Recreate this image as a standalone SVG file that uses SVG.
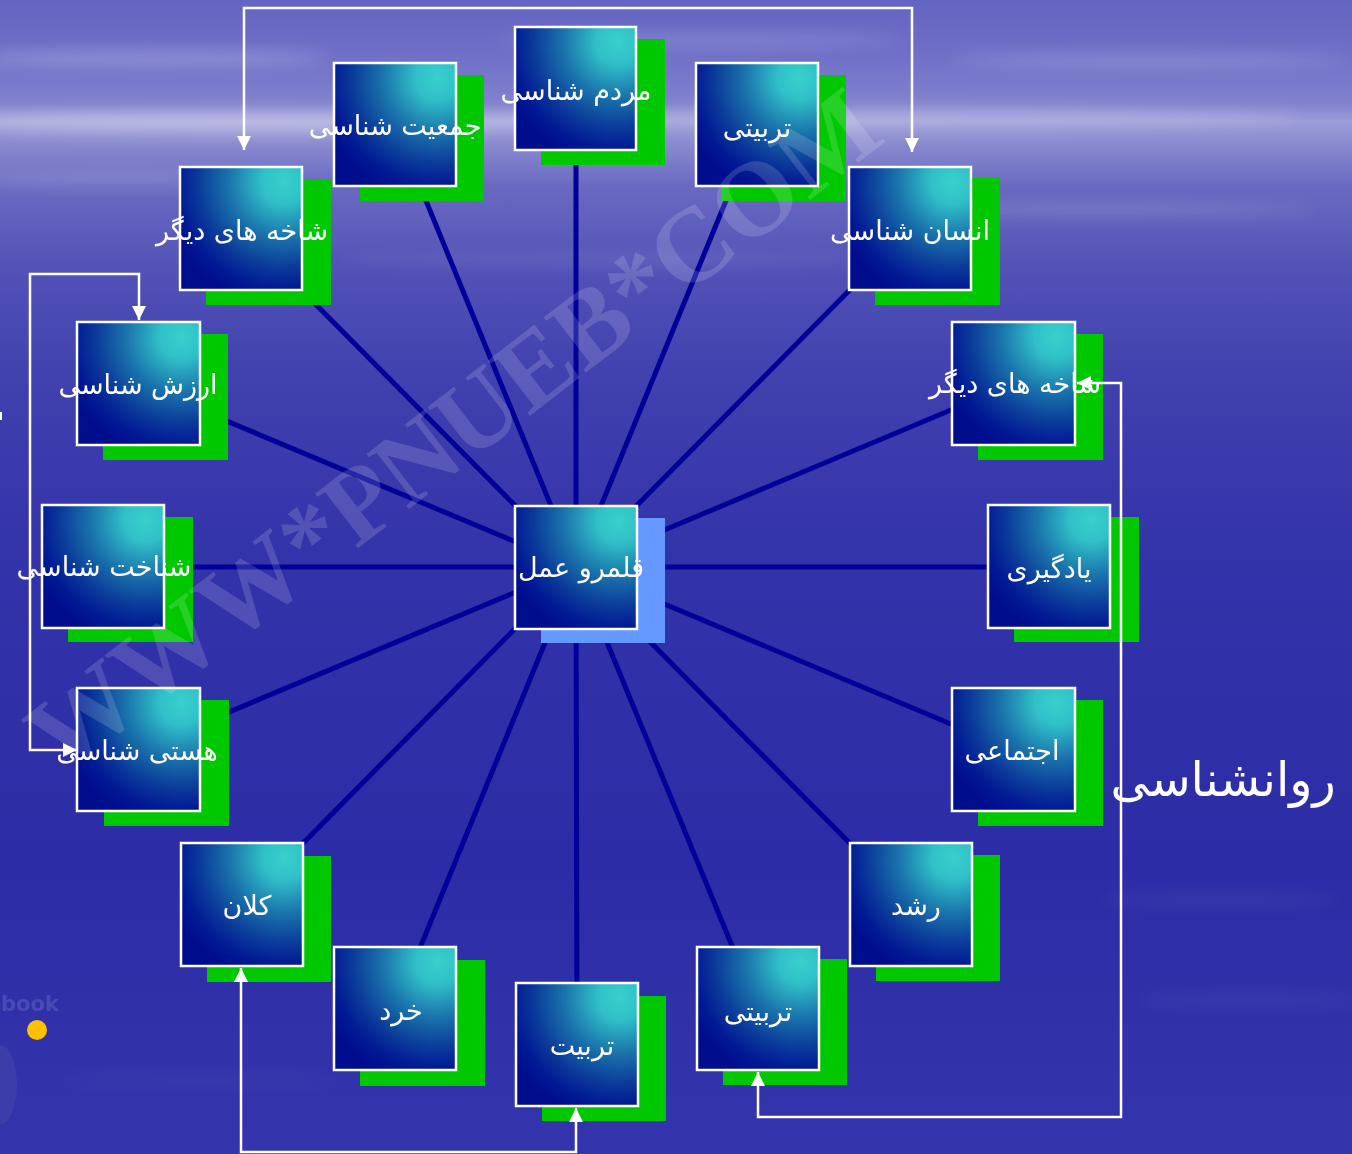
<svg xmlns="http://www.w3.org/2000/svg" width="1352" height="1154" viewBox="0 0 1352 1154">
  <defs>
    <linearGradient id="bg" x1="0" y1="0" x2="0" y2="1">
      <stop offset="0" stop-color="#6464c2"/>
      <stop offset="0.05" stop-color="#7070c8"/>
      <stop offset="0.09" stop-color="#8282ce"/>
      <stop offset="0.105" stop-color="#9c9cd8"/>
      <stop offset="0.125" stop-color="#8a8ad0"/>
      <stop offset="0.16" stop-color="#6a6ac2"/>
      <stop offset="0.24" stop-color="#5050b6"/>
      <stop offset="0.34" stop-color="#3f3fae"/>
      <stop offset="0.5" stop-color="#3232a9"/>
      <stop offset="0.75" stop-color="#2c2ca6"/>
      <stop offset="1" stop-color="#3434ac"/>
    </linearGradient>
    <radialGradient id="nodeFill" cx="0.85" cy="0.12" r="1.0" fx="0.85" fy="0.12">
      <stop offset="0" stop-color="#38d0cc"/>
      <stop offset="0.18" stop-color="#30c0c8"/>
      <stop offset="0.45" stop-color="#1a74ac"/>
      <stop offset="0.7" stop-color="#0b3a9a"/>
      <stop offset="0.88" stop-color="#011894"/>
      <stop offset="1" stop-color="#000e8e"/>
    </radialGradient>
    <filter id="blur" x="-20%" y="-300%" width="140%" height="700%">
      <feGaussianBlur stdDeviation="8"/>
    </filter>
    <marker id="arrow" viewBox="0 0 14 14" refX="14" refY="7" markerWidth="14" markerHeight="14" markerUnits="userSpaceOnUse" orient="auto-start-reverse">
      <path d="M0,0 L14,7 L0,14 Z" fill="#ffffff"/>
    </marker>
    <style>
      .shadow { fill: #00c800; }
      .box { fill: url(#nodeFill); stroke: #ffffff; stroke-width: 2.5; }
      .label { fill: #ffffff; font-family: "DejaVu Sans", "Noto Sans", sans-serif; font-size: 27px; text-anchor: middle; }
      .spoke { stroke: #000099; stroke-width: 5; fill: none; }
      .conn { stroke: #ffffff; stroke-width: 2.5; fill: none; }
    </style>
  </defs>

  <!-- background -->
  <rect x="0" y="0" width="1352" height="1154" fill="url(#bg)"/>
  <g id="clouds" fill="#ffffff" filter="url(#blur)">
    <ellipse cx="250" cy="122" rx="320" ry="10" opacity="0.35"/>
    <ellipse cx="900" cy="118" rx="400" ry="8" opacity="0.25"/>
    <ellipse cx="150" cy="58" rx="180" ry="7" opacity="0.25"/>
    <ellipse cx="700" cy="40" rx="200" ry="6" opacity="0.18"/>
    <ellipse cx="1150" cy="60" rx="200" ry="6" opacity="0.2"/>
    <ellipse cx="1100" cy="210" rx="220" ry="6" opacity="0.15"/>
    <ellipse cx="120" cy="180" rx="160" ry="6" opacity="0.18"/>
    <ellipse cx="600" cy="260" rx="260" ry="5" opacity="0.1"/>
    <ellipse cx="1220" cy="900" rx="120" ry="5" opacity="0.08"/>
    <ellipse cx="1250" cy="1000" rx="110" ry="5" opacity="0.08"/>
    <ellipse cx="200" cy="1080" rx="140" ry="5" opacity="0.06"/>
  </g>

  <!-- slide remnants -->
  <rect x="0" y="412" width="2" height="8" fill="#ffffff"/>
  <text x="1" y="1011" font-family="DejaVu Sans, sans-serif" font-size="21" font-weight="bold" fill="#4a4ab6">book</text>
  <circle cx="37" cy="1030" r="10" fill="#ffc000"/>
  <ellipse cx="0" cy="1085" rx="17" ry="40" fill="#3c3caa"/>

  <!-- spokes -->
  <g id="spokes">
    <line class="spoke" x1="576" y1="567" x2="576" y2="89"/>
    <line class="spoke" x1="576" y1="567" x2="395" y2="125"/>
    <line class="spoke" x1="576" y1="567" x2="757" y2="125"/>
    <line class="spoke" x1="576" y1="567" x2="241" y2="229"/>
    <line class="spoke" x1="576" y1="567" x2="910" y2="229"/>
    <line class="spoke" x1="576" y1="567" x2="138" y2="384"/>
    <line class="spoke" x1="576" y1="567" x2="1013" y2="384"/>
    <line class="spoke" x1="576" y1="567" x2="103" y2="567"/>
    <line class="spoke" x1="576" y1="567" x2="1049" y2="567"/>
    <line class="spoke" x1="576" y1="567" x2="138" y2="750"/>
    <line class="spoke" x1="576" y1="567" x2="1013" y2="750"/>
    <line class="spoke" x1="576" y1="567" x2="242" y2="905"/>
    <line class="spoke" x1="576" y1="567" x2="911" y2="905"/>
    <line class="spoke" x1="576" y1="567" x2="395" y2="1009"/>
    <line class="spoke" x1="576" y1="567" x2="758" y2="1009"/>
    <line class="spoke" x1="576" y1="567" x2="577" y2="1045"/>
  </g>

  <!-- nodes -->
  <g id="n-mardom">
    <rect class="shadow" x="541" y="39" width="124" height="126"/>
    <rect class="box" x="515" y="27" width="121" height="123"/>
    <text class="label" x="576" y="100">مردم شناسی</text>
  </g>
  <g id="n-jamiat">
    <rect class="shadow" x="360" y="75" width="124" height="126"/>
    <rect class="box" x="334" y="63" width="122" height="123"/>
    <text class="label" x="395" y="135">جمعیت شناسی</text>
  </g>
  <g id="n-tarbiati-top">
    <rect class="shadow" x="722" y="75" width="124" height="126"/>
    <rect class="box" x="696" y="63" width="122" height="123"/>
    <text class="label" x="757" y="137">تربیتی</text>
  </g>
  <g id="n-shakheh-left">
    <rect class="shadow" x="206" y="179" width="125" height="126"/>
    <rect class="box" x="180" y="167" width="122" height="123"/>
    <text class="label" x="242" y="240">شاخه های دیگر</text>
  </g>
  <g id="n-ensan">
    <rect class="shadow" x="875" y="178" width="125" height="127"/>
    <rect class="box" x="849" y="167" width="122" height="123"/>
    <text class="label" x="910" y="240">انسان شناسی</text>
  </g>
  <g id="n-arzesh">
    <rect class="shadow" x="103" y="334" width="125" height="126"/>
    <rect class="box" x="77" y="322" width="123" height="123"/>
    <text class="label" x="138" y="394">ارزش شناسی</text>
  </g>
  <g id="n-shakheh-right">
    <rect class="shadow" x="978" y="334" width="125" height="126"/>
    <rect class="box" x="952" y="322" width="123" height="123"/>
    <text class="label" x="1015" y="393">شاخه های دیگر</text>
  </g>
  <g id="n-shenakht">
    <rect class="shadow" x="68" y="517" width="125" height="125"/>
    <rect class="box" x="42" y="505" width="122" height="123"/>
    <text class="label" x="104" y="576">شناخت شناسی</text>
  </g>
  <g id="n-qalamro">
    <rect x="541" y="518" width="124" height="125" fill="#6699ff"/>
    <rect class="box" x="515" y="506" width="122" height="123"/>
    <text class="label" x="581" y="577">قلمرو عمل</text>
  </g>
  <g id="n-yadgiri">
    <rect class="shadow" x="1014" y="517" width="125" height="125"/>
    <rect class="box" x="988" y="505" width="122" height="123"/>
    <text class="label" x="1049" y="578">یادگیری</text>
  </g>
  <g id="n-hasti">
    <rect class="shadow" x="104" y="700" width="125" height="126"/>
    <rect class="box" x="77" y="688" width="123" height="123"/>
    <text class="label" x="137" y="760">هستی شناسی</text>
  </g>
  <g id="n-ejtemaei">
    <rect class="shadow" x="978" y="700" width="125" height="126"/>
    <rect class="box" x="952" y="688" width="123" height="123"/>
    <text class="label" x="1012" y="760">اجتماعی</text>
  </g>
  <g id="n-kalan">
    <rect class="shadow" x="207" y="856" width="124" height="126"/>
    <rect class="box" x="181" y="843" width="122" height="123"/>
    <text class="label" x="247" y="915">کلان</text>
  </g>
  <g id="n-roshd">
    <rect class="shadow" x="876" y="855" width="124" height="126"/>
    <rect class="box" x="850" y="843" width="122" height="123"/>
    <text class="label" x="916" y="915">رشد</text>
  </g>
  <g id="n-khord">
    <rect class="shadow" x="360" y="960" width="125" height="126"/>
    <rect class="box" x="334" y="947" width="122" height="123"/>
    <text class="label" x="401" y="1020">خرد</text>
  </g>
  <g id="n-tarbiati-bottom">
    <rect class="shadow" x="723" y="959" width="124" height="126"/>
    <rect class="box" x="697" y="947" width="122" height="123"/>
    <text class="label" x="758" y="1021">تربیتی</text>
  </g>
  <g id="n-tarbiat">
    <rect class="shadow" x="542" y="996" width="124" height="125"/>
    <rect class="box" x="516" y="983" width="122" height="123"/>
    <text class="label" x="582" y="1055">تربیت</text>
  </g>

  <!-- connectors -->
  <g id="connectors">
    <polyline class="conn" points="244,150 244,8 912,8 912,152" marker-start="url(#arrow)" marker-end="url(#arrow)"/>
    <polyline class="conn" points="139,320 139,274 30,274 30,750 77,750" marker-start="url(#arrow)" marker-end="url(#arrow)"/>
    <polyline class="conn" points="241,968 241,1152 576,1152 576,1108" marker-start="url(#arrow)" marker-end="url(#arrow)"/>
    <polyline class="conn" points="1077,383 1121,383 1121,1117 758,1117 758,1072" marker-start="url(#arrow)" marker-end="url(#arrow)"/>
  </g>

  <g id="n-ravanshenasi">
    <text x="1223" y="796" font-family="DejaVu Sans, sans-serif" font-size="48" fill="#ffffff" text-anchor="middle">روانشناسی</text>
  </g>

  <!-- watermark -->
  <text x="62" y="776" transform="rotate(-37.6 62 776)" font-family="Liberation Serif, serif" font-weight="bold" font-size="106" fill="#ffffff" opacity="0.15">WWW*PNUEB*COM</text>
</svg>
